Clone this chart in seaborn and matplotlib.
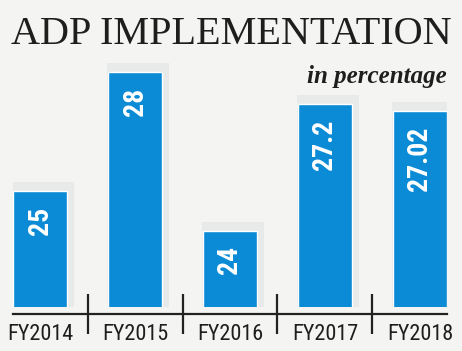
import numpy as np
import pandas as pd
import matplotlib
matplotlib.use('Agg')
import matplotlib.pyplot as plt
import matplotlib.patches as mpatches
import matplotlib.transforms as mtransforms
import seaborn as sns

# Data
years = ['FY2014', 'FY2015', 'FY2016', 'FY2017', 'FY2018']
values = [25, 28, 24, 27.2, 27.02]
value_labels = ['25', '28', '24', '27.2', '27.02']

bar_color = '#0b8ad6'
bg_color = '#f4f4f2'
frame_color = '#e8eae9'
cond_font = ['Roboto Condensed', 'DejaVu Sans']

sns.set_style('white')
plt.rcParams['font.family'] = cond_font
plt.rcParams['font.stretch'] = 'condensed'

df = pd.DataFrame({'year': years, 'value': values})

fig = plt.figure(figsize=(4.62, 3.51), dpi=100, facecolor=bg_color)
ax = fig.add_axes([13 / 462, 44 / 351, 434 / 462, 267 / 351])
ax.set_facecolor(bg_color)

sns.barplot(data=df, x='year', y='value', color=bar_color, width=0.57,
            saturation=1, ax=ax, zorder=3)

# pale frame behind each bar, shifted up and right
shift = mtransforms.offset_copy(ax.transData, fig=fig, x=4, y=4, units='dots')
for p in list(ax.patches)[:len(values)]:
    r = mpatches.Rectangle((p.get_x() - 0.05, p.get_y()), p.get_width() + 0.08,
                           p.get_height() + 0.12, transform=shift,
                           facecolor=frame_color, edgecolor='none', zorder=2)
    ax.add_patch(r)

ax.set_xlim(-0.285, 4.285)
ax.set_ylim(22.08, 28.81)

# value labels inside bars
for i, (v, lab) in enumerate(zip(values, value_labels)):
    ax.annotate(lab, xy=(i, v), xytext=(0, -11), textcoords='offset points',
                rotation=90, ha='center', va='top', color='white',
                fontsize=20, fontweight='bold', family=cond_font,
                fontstretch='condensed', zorder=4)

# axis styling
for s in ['top', 'right', 'left']:
    ax.spines[s].set_visible(False)
ax.spines['bottom'].set_position(('outward', 5))
ax.spines['bottom'].set_color('#222222')
ax.spines['bottom'].set_linewidth(1.6)
ax.set_yticks([])
ax.set_xlabel('')
ax.set_ylabel('')
ax.set_xticks(range(len(years)))
ax.set_xticklabels(years, fontsize=16, color='#1e1e1e', family=cond_font,
                   fontstretch='condensed')
ax.tick_params(axis='x', which='major', length=0, pad=7)
ax.set_xticks([0.5, 1.5, 2.5, 3.5], minor=True)
ax.tick_params(axis='x', which='minor', bottom=True, direction='inout',
               length=29, width=1.6, color='#222222')

# titles
fig.text(0.5, 1 - 16 / 351, 'ADP IMPLEMENTATION', ha='center', va='top',
         fontsize=29, family=['Liberation Serif', 'DejaVu Serif'],
         fontstretch='normal', color='#1e1e1e')
fig.text(447 / 462, 1 - 83 / 351, 'in percentage', ha='right', va='baseline',
         fontsize=18, fontstyle='italic', fontweight='bold',
         family=['Liberation Serif', 'DejaVu Serif'], fontstretch='normal',
         color='#1e1e1e')

fig.savefig('out.png', dpi=100, facecolor=bg_color)
